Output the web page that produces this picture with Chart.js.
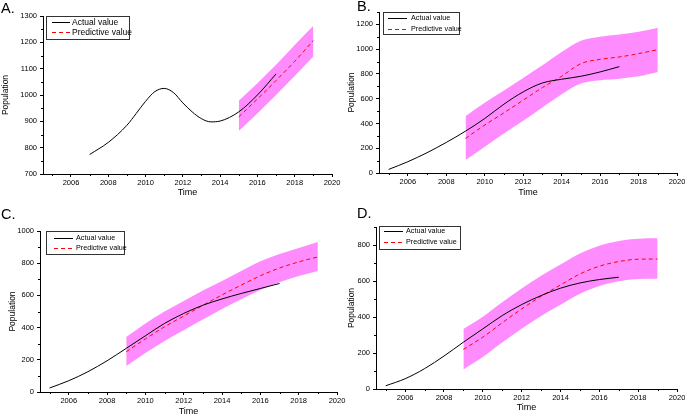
<!DOCTYPE html>
<html>
<head>
<meta charset="utf-8">
<script src="https://cdn.jsdelivr.net/npm/chart.js@4.4.0/dist/chart.umd.min.js"></script>
<style>
  body { margin: 0; width: 685px; height: 415px; position: relative; overflow: hidden; background: #fff; font-family: "Liberation Sans", Arial, sans-serif; }
  .panel { position: absolute; }
  .tag { position: absolute; font-size: 14.5px; line-height: 15px; color: #000; }
</style>
</head>
<body>
<div class="panel" style="left:0;top:0;width:350px;height:205px"><canvas id="chartA"></canvas></div>
<div class="panel" style="left:342px;top:0;width:343px;height:205px"><canvas id="chartB"></canvas></div>
<div class="panel" style="left:0;top:205px;width:350px;height:214px"><canvas id="chartC"></canvas></div>
<div class="panel" style="left:342px;top:205px;width:343px;height:214px"><canvas id="chartD"></canvas></div>
<div class="tag" style="left:1px;top:1px">A.</div>
<div class="tag" style="left:357px;top:-1px">B.</div>
<div class="tag" style="left:1px;top:207px">C.</div>
<div class="tag" style="left:357px;top:206px">D.</div>
<script>
// x axis ticks (shared)
const xMajor = [2006, 2008, 2010, 2012, 2014, 2016, 2018, 2020];
const xMinor = [2005, 2007, 2009, 2011, 2013, 2015, 2017, 2019];

// panel A
const yearsA = [2007, 2008, 2009, 2009.5, 2010, 2010.5, 2011, 2011.5, 2012, 2012.5, 2013, 2013.5, 2014, 2015, 2016, 2017];
const actualA = [774, 820, 885, 930, 976, 1013, 1025, 1009, 970, 936, 910, 898, 901, 936, 1000, 1080];
const predYearsA = [2015, 2016, 2017, 2018, 2019];
const predA = [917, 985, 1055, 1128, 1207];
const upperA = [978, 1045, 1115, 1190, 1263];
const lowerA = [863, 930, 1000, 1072, 1146];
const yMajorA = [700, 800, 900, 1000, 1100, 1200, 1300];
const yMinorA = [750, 850, 950, 1050, 1150, 1250];

// panels B, C, D share the years
const years = [2005, 2006, 2007, 2008, 2009, 2010, 2011, 2012, 2013, 2014, 2015, 2016, 2017];
const predYears = [2009, 2010, 2011, 2012, 2013, 2014, 2015, 2016, 2017, 2018, 2019];

const actualB = [29, 91, 164, 247, 338, 440, 556, 655, 727, 757, 781, 816, 859];
const predB = [279, 387, 486, 588, 690, 781, 883, 918, 937, 964, 996];
const upperB = [459, 567, 666, 768, 870, 977, 1068, 1100, 1118, 1140, 1173];
const lowerB = [105, 212, 319, 421, 529, 636, 722, 749, 762, 781, 816];
const yMajorB = [0, 200, 400, 600, 800, 1000, 1200];
const yMinorB = [100, 300, 500, 700, 900, 1100, 1300];

const actualC = [25, 70, 126, 194, 271, 349, 426, 488, 539, 578, 612, 643, 674];
const predC = [250, 330, 405, 472, 538, 603, 664, 722, 770, 808, 839];
const upperC = [341, 425, 500, 565, 630, 690, 752, 812, 857, 895, 932];
const lowerC = [162, 242, 317, 384, 450, 515, 576, 634, 682, 720, 751];
const yMajorC = [0, 200, 400, 600, 800, 1000];
const yMinorC = [100, 300, 500, 700, 900];

const actualD = [18, 57, 113, 183, 260, 334, 408, 469, 519, 560, 589, 608, 621];
const predD = [220, 288, 368, 445, 515, 578, 639, 682, 708, 721, 722];
const upperD = [334, 402, 482, 559, 629, 692, 753, 796, 822, 835, 837];
const lowerD = [109, 178, 258, 335, 405, 468, 529, 572, 598, 611, 612];
const yMajorD = [0, 200, 400, 600, 800];
const yMinorD = [100, 300, 500, 700, 900];

const FONT = '"Liberation Sans", Arial, sans-serif';
const BAND = '#ff8cff';

function pts(xs, ys) {
  return xs.map((x, i) => ({ x: x, y: ys[i] }));
}

// short minor ticks + boxed legend like the Origin plots
const extras = {
  id: 'extras',
  afterDatasetsDraw(chart, args, o) {
    const ctx = chart.ctx;
    const xs = chart.scales.x, ys = chart.scales.y;
    const area = chart.chartArea;
    ctx.save();
    ctx.strokeStyle = '#000';
    ctx.lineWidth = 1;
    ctx.beginPath();
    o.xMinor.forEach(v => {
      const px = Math.round(xs.getPixelForValue(v)) + 0.5;
      ctx.moveTo(px, area.bottom);
      ctx.lineTo(px, area.bottom + 2);
    });
    o.yMinor.forEach(v => {
      if (v > ys.max) return;
      const py = Math.round(ys.getPixelForValue(v)) + 0.5;
      ctx.moveTo(area.left, py);
      ctx.lineTo(area.left - 2, py);
    });
    ctx.stroke();

    const lg = o.legend;
    const x0 = Math.round(area.left + lg.dx), y0 = Math.round(area.top + lg.dy);
    ctx.strokeStyle = '#333';
    ctx.strokeRect(x0 + 0.5, y0 + 0.5, lg.w, lg.h);
    ctx.font = lg.size + 'px ' + FONT;
    ctx.textBaseline = 'middle';
    const items = chart.data.datasets.filter(d => d.label && d.label[0] !== '_');
    items.forEach((d, i) => {
      const y = Math.round(y0 + lg.rows[i]) + 0.5;
      ctx.strokeStyle = d.borderColor;
      ctx.setLineDash(d.borderDash || []);
      ctx.beginPath();
      ctx.moveTo(x0 + lg.line[0], y);
      ctx.lineTo(x0 + lg.line[1], y);
      ctx.stroke();
      ctx.setLineDash([]);
      ctx.fillStyle = '#000';
      ctx.fillText(d.label, x0 + lg.textX, y);
    });
    ctx.restore();
  }
};

function makePanel(id, p) {
  new Chart(id, {
    type: 'line',
    data: {
      datasets: [
        {
          label: 'Actual value',
          data: pts(p.ax, p.actual),
          borderColor: '#000',
          borderWidth: 1,
          pointRadius: 0,
          cubicInterpolationMode: 'monotone'
        },
        {
          label: 'Predictive value',
          data: pts(p.px, p.pred),
          borderColor: '#ff0000',
          borderDash: [4, 3],
          borderWidth: 1,
          pointRadius: 0,
          cubicInterpolationMode: 'monotone'
        },
        {
          label: '_upper',
          data: pts(p.px, p.upper),
          borderWidth: 0,
          pointRadius: 0,
          backgroundColor: BAND,
          fill: false,
          cubicInterpolationMode: 'monotone'
        },
        {
          label: '_lower',
          data: pts(p.px, p.lower),
          borderWidth: 0,
          pointRadius: 0,
          backgroundColor: BAND,
          fill: '-1',
          cubicInterpolationMode: 'monotone'
        }
      ]
    },
    options: {
      responsive: true,
      maintainAspectRatio: false,
      animation: false,
      layout: { padding: { left: 0, top: p.area.t, right: p.w - p.area.r, bottom: 0 } },
      plugins: {
        legend: { display: false },
        tooltip: { enabled: false },
        extras: { xMinor: xMinor, yMinor: p.yMinor, legend: p.legend }
      },
      scales: {
        x: {
          type: 'linear',
          min: 2004.5,
          max: 2020,
          afterBuildTicks: s => { s.ticks = xMajor.map(v => ({ value: v })); },
          afterFit: s => { s.height = p.h - p.area.b; s.paddingLeft = 0; s.paddingRight = 0; },
          border: { display: true, color: '#000', width: 1 },
          grid: { drawOnChartArea: false, drawTicks: true, tickLength: 3, color: '#000' },
          ticks: { color: '#000', padding: 1, maxRotation: 0, font: { family: FONT, size: 7.5 }, callback: v => String(v) },
          title: { display: true, text: 'Time', color: '#000', font: { family: FONT, size: 9 }, padding: { top: 0, bottom: p.timePad } }
        },
        y: {
          min: p.yMin,
          max: p.yMax,
          afterBuildTicks: s => { s.ticks = p.yMajor.map(v => ({ value: v })); },
          afterFit: s => { s.width = p.area.l; s.paddingTop = 0; s.paddingBottom = 0; },
          border: { display: true, color: '#000', width: 1 },
          grid: { drawOnChartArea: false, drawTicks: true, tickLength: 3, color: '#000' },
          ticks: { color: '#000', padding: 3, font: { family: FONT, size: 7.5 }, callback: v => String(v) },
          title: { display: true, text: 'Population', color: '#000', font: { family: FONT, size: 8.5 }, padding: { top: p.popPad, bottom: 0 } }
        }
      }
    },
    plugins: [extras]
  });
}

makePanel('chartA', {
  w: 350, h: 205, area: { l: 43, t: 16, r: 332, b: 174 },
  ax: yearsA, actual: actualA, px: predYearsA, pred: predA, upper: upperA, lower: lowerA,
  yMin: 700, yMax: 1300, yMajor: yMajorA, yMinor: yMinorA, timePad: 7, popPad: 1,
  legend: { dx: 3, dy: 0, w: 83, h: 23, line: [6, 24], textX: 26, rows: [6.3, 16.3], size: 8.5 }
});
makePanel('chartB', {
  w: 343, h: 205, area: { l: 37, t: 12, r: 335, b: 173 },
  ax: years, actual: actualB, px: predYears, pred: predB, upper: upperB, lower: lowerB,
  yMin: 0, yMax: 1300, yMajor: yMajorB, yMinor: yMinorB, timePad: 7, popPad: 5,
  legend: { dx: 4, dy: 0, w: 76, h: 22, line: [5, 24], textX: 28, rows: [5.7, 17], size: 7.2 }
});
makePanel('chartC', {
  w: 350, h: 214, area: { l: 40, t: 26, r: 337, b: 187 },
  ax: years, actual: actualC, px: predYears, pred: predC, upper: upperC, lower: lowerC,
  yMin: 0, yMax: 1000, yMajor: yMajorC, yMinor: yMinorC, timePad: 2, popPad: 8,
  legend: { dx: 6, dy: 0, w: 78, h: 23, line: [8, 27], textX: 30, rows: [6.7, 17.3], size: 7.2 }
});
makePanel('chartD', {
  w: 343, h: 214, area: { l: 34, t: 22, r: 335, b: 184 },
  ax: years, actual: actualD, px: predYears, pred: predD, upper: upperD, lower: lowerD,
  yMin: 0, yMax: 900, yMajor: yMajorD, yMinor: yMinorD, timePad: 6, popPad: 5,
  legend: { dx: 3, dy: -1, w: 81, h: 23, line: [5, 24], textX: 27, rows: [5.3, 16], size: 7.2 }
});
</script>
</body>
</html>
